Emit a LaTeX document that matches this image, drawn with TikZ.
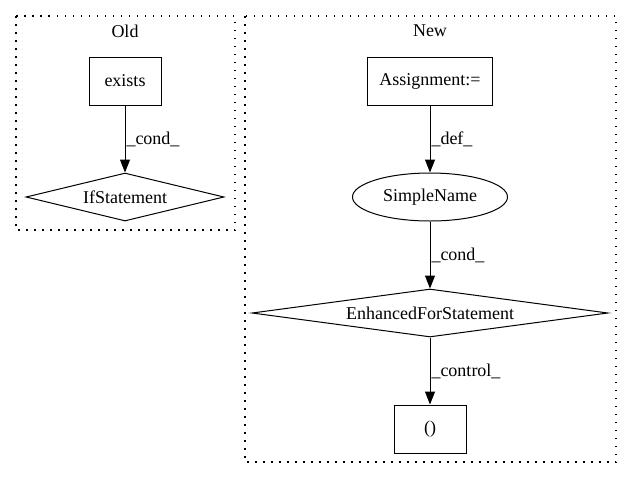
\documentclass[tikz,border=0pt]{standalone}
\usepackage{fontspec}
\setmainfont{Liberation Serif}
\usetikzlibrary{shapes.geometric,arrows.meta}

\begin{document}
\begin{tikzpicture}[x=1pt, y=-1pt, % pixel units, y down
        every node/.style={font=\fontsize{18}{20}\selectfont},
        box/.style={draw, line width=1pt, rectangle, minimum width=72pt, minimum height=48pt, inner sep=0pt},
        decision/.style={draw, line width=1pt, diamond, aspect=7, minimum height=48pt, inner sep=0pt},
        oval/.style={draw, line width=1pt, ellipse, minimum width=155pt, minimum height=48pt, inner sep=0pt},
        flow/.style={line width=1pt, -{Triangle[length=13pt, width=10pt]}},
        lbl/.style={right, inner sep=1pt},
        cluster/.style={line width=1.2pt, dash pattern=on 1.5pt off 6.5pt}]
        \useasboundingbox (0,0) rectangle (632,480);

        % Old cluster
        \draw[cluster] (16,16) rectangle (235,230);
        \node (oldtitle) at (125,31) {Old};
        \node[box] (exists) at (125,81) {exists};
        \node[decision, minimum width=198pt] (ifstmt) at (125,197) {IfStatement};
        \draw[flow] (exists) -- (ifstmt) node[lbl, midway] {\_cond\_};

        % New cluster
        \draw[cluster] (245,16) rectangle (616,462);
        \node (newtitle) at (430,31) {New};
        \node[box, minimum width=125pt] (assign) at (430,81) {Assignment:=};
        \node[oval] (simplename) at (430,197) {SimpleName};
        \node[decision, minimum width=356pt] (forstmt) at (430,313) {EnhancedForStatement};
        \node[box] (parens) at (430,429) {()};
        \draw[flow] (assign) -- (simplename) node[lbl, midway] {\_def\_};
        \draw[flow] (simplename) -- (forstmt) node[lbl, midway] {\_cond\_};
        \draw[flow] (forstmt) -- (parens) node[lbl, midway] {\_control\_};
    \end{tikzpicture}
\end{document}
